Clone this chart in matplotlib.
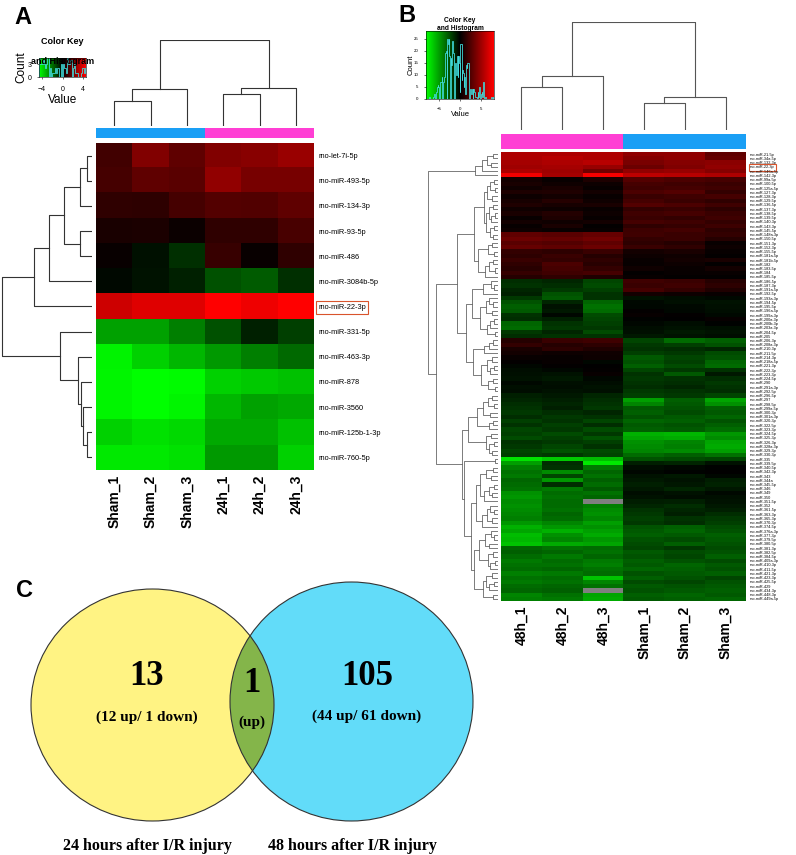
import numpy as np
import matplotlib
matplotlib.use("Agg")
import matplotlib.pyplot as plt
from matplotlib.colors import LinearSegmentedColormap, ListedColormap
from matplotlib.patches import Ellipse

W, H = 796, 855
nan = float("nan")

# ---- panel A: 24h vs sham ----
a_cols = ["Sham_1", "Sham_2", "Sham_3", "24h_1", "24h_2", "24h_3"]
a_groups = [0, 0, 0, 1, 1, 1]
a_rows = ["rno-let-7i-5p", "rno-miR-493-5p", "rno-miR-134-3p", "rno-miR-93-5p",
          "rno-miR-486", "rno-miR-3084b-5p", "rno-miR-22-3p", "rno-miR-331-5p",
          "rno-miR-463-3p", "rno-miR-878", "rno-miR-3560", "rno-miR-125b-1-3p",
          "rno-miR-760-5p"]
a_values = [
    [1.15, 2.3, 1.7, 2.3, 2.45, 2.75],
    [1.25, 1.7, 1.6, 2.6, 2.15, 2.15],
    [0.85, 0.8, 1.25, 1.5, 1.45, 1.7],
    [0.45, 0.5, 0.2, 0.85, 0.85, 1.3],
    [0.15, -0.3, -0.85, 1.0, 0.15, 0.85],
    [-0.15, -0.35, -0.6, -1.45, -1.65, -0.85],
    [3.7, 4.0, 4.0, 4.6, 4.3, 4.6],
    [-2.9, -2.9, -2.3, -1.45, -0.6, -1.15],
    [-4.35, -3.75, -3.3, -2.75, -2.3, -1.9],
    [-4.4, -4.6, -4.5, -3.75, -3.6, -3.45],
    [-4.4, -4.6, -4.4, -3.3, -2.9, -3.05],
    [-3.75, -4.05, -3.9, -3.05, -3.05, -3.45],
    [-4.2, -4.2, -4.05, -2.75, -2.75, -3.75],
]
# merge height between neighbouring leaves (px of the drawn tree)
a_row_gaps = [5, 12, 28, 12, 43, 58, 90, 32, 14, 11, 9, 5]
a_col_gaps = [25, 37, 86, 32, 38]

# ---- panel B: 48h vs sham ----
b_cols = ["48h_1", "48h_2", "48h_3", "Sham_1", "Sham_2", "Sham_3"]
b_groups = [1, 1, 1, 0, 0, 0]
b_rows = [
    "rno-miR-21-5p", "rno-miR-34a-5p", "rno-miR-132-3p", "rno-miR-22-3p", "rno-miR-146a-5p", "rno-miR-142-3p",
    "rno-miR-99a-5p", "rno-miR-100-5p", "rno-miR-125a-5p", "rno-miR-127-3p", "rno-miR-128-3p", "rno-miR-129-5p",
    "rno-miR-136-5p", "rno-miR-137-3p", "rno-miR-138-5p", "rno-miR-139-5p", "rno-miR-140-3p", "rno-miR-143-3p",
    "rno-miR-145-5p", "rno-miR-148a-3p", "rno-miR-150-5p", "rno-miR-151-3p", "rno-miR-152-3p", "rno-miR-155-5p",
    "rno-miR-181a-5p", "rno-miR-181b-5p", "rno-miR-182", "rno-miR-183-5p", "rno-miR-184", "rno-miR-185-5p",
    "rno-miR-186-5p", "rno-miR-187-3p", "rno-miR-191a-5p", "rno-miR-192-5p", "rno-miR-193a-3p", "rno-miR-194-5p",
    "rno-miR-195-5p", "rno-miR-196a-5p", "rno-miR-199a-3p", "rno-miR-200a-3p", "rno-miR-200b-3p", "rno-miR-203a-3p",
    "rno-miR-204-5p", "rno-miR-205", "rno-miR-206-3p", "rno-miR-208a-3p", "rno-miR-210-3p", "rno-miR-211-5p",
    "rno-miR-214-3p", "rno-miR-218a-5p", "rno-miR-221-3p", "rno-miR-222-3p", "rno-miR-223-3p", "rno-miR-224-5p",
    "rno-miR-290", "rno-miR-291a-3p", "rno-miR-292-5p", "rno-miR-296-5p", "rno-miR-297", "rno-miR-298-5p",
    "rno-miR-299a-5p", "rno-miR-300-3p", "rno-miR-301a-3p", "rno-miR-320-3p", "rno-miR-322-5p", "rno-miR-323-3p",
    "rno-miR-324-5p", "rno-miR-325-3p", "rno-miR-326-3p", "rno-miR-328a-3p", "rno-miR-329-3p", "rno-miR-330-3p",
    "rno-miR-335", "rno-miR-339-5p", "rno-miR-340-5p", "rno-miR-342-3p", "rno-miR-343", "rno-miR-344a",
    "rno-miR-345-5p", "rno-miR-346", "rno-miR-349", "rno-miR-350", "rno-miR-351-5p", "rno-miR-352",
    "rno-miR-361-5p", "rno-miR-363-3p", "rno-miR-365-3p", "rno-miR-370-3p", "rno-miR-374-5p", "rno-miR-376a-3p",
    "rno-miR-377-3p", "rno-miR-379-5p", "rno-miR-380-5p", "rno-miR-381-3p", "rno-miR-382-5p", "rno-miR-384-5p",
    "rno-miR-409a-3p", "rno-miR-410-3p", "rno-miR-411-5p", "rno-miR-421-3p", "rno-miR-423-3p", "rno-miR-425-5p",
    "rno-miR-429", "rno-miR-434-3p", "rno-miR-448-3p", "rno-miR-449a-5p",
]
b_values = [
    [5.5, 5.5, 5.5, 4.5, 4.5, 3.0],
    [5.5, 5.8, 5.5, 4.2, 4.5, 3.2],
    [5.2, 5.5, 5.8, 3.8, 4.2, 4.4],
    [5.0, 5.2, 4.8, 3.4, 4.0, 4.6],
    [5.4, 5.0, 3.6, 4.6, 4.8, 4.2],
    [7.6, 5.2, 7.8, 6.0, 5.8, 5.5],
    [0.6, 0.3, 0.9, 2.6, 2.4, 2.2],
    [0.8, 0.5, 0.4, 2.2, 2.0, 1.8],
    [0.5, 0.8, 0.2, 2.0, 2.2, 2.0],
    [0.9, 1.0, 0.6, 2.4, 2.6, 1.6],
    [0.4, 0.6, 0.3, 1.8, 2.0, 2.2],
    [0.7, 1.2, 0.5, 2.2, 1.8, 1.5],
    [1.0, 0.7, 0.8, 2.6, 2.4, 2.0],
    [0.5, 0.4, 0.3, 1.6, 1.8, 1.4],
    [0.8, 1.1, 0.4, 2.0, 2.2, 1.8],
    [0.3, 0.9, 0.2, 1.8, 1.6, 2.0],
    [0.6, 0.5, 0.6, 2.2, 2.0, 1.6],
    [0.2, 0.8, 0.1, 1.5, 1.7, 1.9],
    [0.4, 0.3, 0.2, 1.9, 2.1, 1.4],
    [3.0, 2.8, 3.2, 2.0, 1.8, 1.6],
    [3.4, 3.2, 3.6, 1.6, 1.8, 1.2],
    [2.8, 2.6, 3.0, 1.4, 1.2, 0.3],
    [3.2, 3.0, 3.4, 1.8, 1.5, 0.4],
    [1.6, 1.4, 1.8, 0.6, 0.8, 0.2],
    [1.4, 1.8, 1.2, 0.4, 0.5, 0.1],
    [1.8, 1.6, 1.5, 0.3, 0.6, 0.8],
    [1.5, 2.4, 1.3, 0.2, 0.4, 0.1],
    [1.3, 2.2, 1.6, 0.5, 0.3, 0.6],
    [1.7, 2.0, 2.2, 0.1, 0.2, 0.3],
    [1.2, 1.5, 1.0, 0.2, 0.1, 0.1],
    [-1.4, -1.2, -2.2, 2.0, 1.8, 1.2],
    [-1.6, -1.4, -2.4, 1.8, 2.0, 1.4],
    [-1.2, -1.8, -2.0, 2.2, 1.6, 1.0],
    [-1.0, -2.6, -1.6, 0.6, 0.4, 0.3],
    [-1.8, -2.8, -1.6, -0.6, -0.4, -0.3],
    [-2.6, -1.2, -3.2, -0.3, -0.5, -0.6],
    [-3.0, -0.6, -3.6, -0.2, -0.3, -0.5],
    [-2.8, -0.8, -3.4, 0.1, -0.2, -0.4],
    [-1.6, -0.2, -2.4, 0.2, 0.1, -0.3],
    [-1.4, -1.0, -2.2, -0.1, 0.0, 0.2],
    [-3.2, -1.6, -2.0, -0.2, -0.4, -0.1],
    [-3.4, -1.8, -1.8, -0.4, -0.6, -0.5],
    [-1.8, -1.2, -2.4, -0.5, -0.8, -0.6],
    [-1.4, -1.6, -1.6, -0.8, -0.6, -0.4],
    [1.2, 1.8, 2.0, -2.2, -3.4, -3.0],
    [1.6, 1.2, 1.4, -1.8, -2.0, -2.6],
    [0.8, 1.4, 1.0, -1.6, -1.4, -1.2],
    [0.6, 0.4, 0.5, -2.0, -1.8, -2.4],
    [0.3, 0.2, 0.4, -2.8, -2.2, -2.6],
    [0.1, 0.2, -0.2, -2.6, -2.0, -3.2],
    [-0.2, 0.1, 0.0, -3.0, -2.4, -3.4],
    [-0.4, -0.2, 0.1, -2.2, -1.8, -1.6],
    [-0.5, -0.6, 0.3, -1.6, -2.8, -0.8],
    [-0.6, -0.8, -0.2, -1.8, -1.6, -1.4],
    [-0.3, -0.5, -0.4, -1.6, -1.4, -1.8],
    [-0.5, -0.4, -0.6, -1.4, -1.2, -1.6],
    [-0.4, -0.6, -0.5, -1.8, -1.6, -1.4],
    [-1.0, -0.8, -1.2, -2.0, -1.8, -2.2],
    [-1.2, -1.0, -1.4, -5.0, -3.0, -5.2],
    [-1.4, -1.2, -1.6, -4.2, -2.8, -4.6],
    [-1.6, -1.0, -1.8, -2.8, -2.6, -3.0],
    [-1.8, -1.4, -1.2, -3.0, -2.4, -2.8],
    [-1.4, -1.8, -1.6, -2.6, -2.8, -3.2],
    [-2.0, -1.6, -2.2, -3.2, -3.0, -2.6],
    [-1.6, -2.0, -1.4, -2.8, -2.6, -3.0],
    [-2.2, -1.8, -2.4, -3.0, -2.8, -3.4],
    [-2.0, -2.4, -1.8, -5.6, -5.8, -4.8],
    [-2.4, -2.0, -2.6, -5.2, -5.4, -4.4],
    [-1.6, -1.8, -2.0, -4.6, -4.2, -5.2],
    [-1.8, -2.2, -1.6, -4.4, -4.0, -5.4],
    [-2.2, -2.6, -2.4, -4.2, -4.4, -5.0],
    [-2.0, -1.8, -2.2, -3.4, -3.0, -3.6],
    [-7.2, -6.4, -6.0, -2.6, -2.4, -2.2],
    [-5.0, -1.4, -7.4, -1.0, -1.2, -0.6],
    [-4.0, -1.6, -3.8, -0.4, -0.2, -0.1],
    [-3.6, -4.4, -3.2, -0.2, -0.1, 0.0],
    [-3.8, -2.2, -3.6, -0.6, -0.8, -0.2],
    [-3.2, -4.8, -3.0, -0.8, -0.6, -0.9],
    [-3.4, -1.4, -3.4, -1.0, -0.7, -1.1],
    [-3.6, -3.8, -2.8, -0.8, -1.2, -0.7],
    [-4.6, -3.4, -3.6, -0.4, -0.6, -0.3],
    [-4.8, -3.6, -3.2, -0.6, -0.4, -0.5],
    [-4.4, -3.4, nan, -0.9, -1.0, -0.6],
    [-4.6, -3.4, -4.0, -1.2, -1.4, -0.8],
    [-4.4, -3.6, -4.4, -1.6, -1.2, -1.0],
    [-4.2, -3.2, -4.6, -1.8, -1.0, -1.4],
    [-4.0, -3.4, -4.2, -2.0, -1.6, -1.8],
    [-4.8, -4.2, -5.0, -1.8, -1.4, -2.0],
    [-5.6, -4.8, -4.6, -2.6, -3.0, -2.4],
    [-5.2, -5.6, -5.0, -2.8, -3.2, -2.6],
    [-6.0, -4.6, -5.4, -3.0, -2.8, -3.0],
    [-5.8, -4.2, -4.8, -2.6, -2.4, -2.8],
    [-6.2, -5.4, -5.2, -2.4, -3.0, -2.6],
    [-3.2, -3.6, -3.4, -2.2, -1.8, -2.4],
    [-3.0, -3.2, -3.6, -2.8, -2.4, -2.6],
    [-3.4, -3.8, -3.2, -2.6, -2.2, -3.0],
    [-3.8, -3.4, -3.8, -3.0, -2.6, -2.4],
    [-3.6, -3.6, -4.0, -2.8, -3.2, -2.8],
    [-3.4, -3.2, -3.6, -3.2, -3.0, -2.6],
    [-4.0, -3.8, -3.4, -2.6, -2.8, -3.0],
    [-3.6, -3.4, -6.2, -3.0, -2.6, -2.2],
    [-3.8, -3.6, -4.2, -2.4, -2.2, -2.6],
    [-3.4, -3.2, -3.6, -2.8, -2.6, -2.8],
    [-3.2, -3.0, nan, -2.6, -2.8, -3.0],
    [-4.2, -3.6, -5.2, -3.0, -3.2, -2.8],
    [-4.0, -3.8, -5.4, -2.8, -3.0, -3.2],
]
b_row_gaps = ([5, 11, 7, 16, 23] + [70]
              + [4, 8, 3, 11, 6, 14, 5, 9, 3, 7, 12, 4, 8, 5] + [24]
              + [6, 10, 4, 20, 5, 9, 3, 13] + [41]
              + [7, 4, 15, 26, 9, 5, 12, 6, 18, 4, 8, 11, 3] + [32]
              + [5, 9, 14, 25, 6, 11, 4, 8, 17, 5, 10, 3] + [62]
              + [6, 10, 4, 15, 8, 21, 5, 9, 30, 7, 12, 4, 9, 6] + [36]
              + [3, 34]
              + [5, 12, 7, 18, 4, 9, 6, 14, 22, 8, 4, 11, 6, 16] + [27]
              + [7, 4, 13, 9, 19, 5, 10, 3, 8, 24, 6, 12, 4, 9, 15, 5])
b_col_gaps = [43, 54, 108, 27, 33]

# ---- panel C: venn ----
venn_counts = ["13", "1", "105"]
venn_details = ["(12 up/ 1 down)", "(up)", "(44 up/ 61 down)"]
venn_sets = ["24 hours after I/R injury", "48 hours after I/R injury"]

cmap = LinearSegmentedColormap.from_list("gkr", ["#00ff00", "#000000", "#ff0000"])
cmap.set_bad("#7f7f7f")
side_cmap = ListedColormap(["#1a9ff5", "#ff3fd4"])
SANS = "Liberation Sans"
SERIF = "Liberation Serif"


def px_axes(fig, x0, y0, x1, y1):
    return fig.add_axes([x0 / W, 1 - y1 / H, (x1 - x0) / W, (y1 - y0) / H])


def dendro(ax, gaps, orient, color, lw):
    def walk(lo, hi):
        if lo == hi:
            return lo + 0.5, 0.0
        k = lo + int(np.argmax(gaps[lo:hi]))
        p1, h1 = walk(lo, k)
        p2, h2 = walk(k + 1, hi)
        h = gaps[k]
        if orient == "left":
            ax.plot([h1, h, h, h2], [p1, p1, p2, p2], color=color, lw=lw)
        else:
            ax.plot([p1, p1, p2, p2], [h1, h, h, h2], color=color, lw=lw)
        return (p1 + p2) / 2, h
    walk(0, len(gaps))
    ax.axis("off")


def heat(ax, values, lim, cols, rows, row_fs, row_pad, box_row):
    ax.imshow(np.array(values, float), cmap=cmap, vmin=-lim, vmax=lim,
              aspect="auto", interpolation="nearest")
    for s in ax.spines.values():
        s.set_visible(False)
    ax.set_xticks(range(len(cols)))
    ax.set_xticklabels(cols, rotation=90, fontsize=10, fontweight="bold",
                       family=SANS, va="top")
    ax.yaxis.tick_right()
    ax.set_yticks(range(len(rows)))
    ax.set_yticklabels(rows, fontsize=row_fs, family=SANS)
    ax.tick_params(axis="x", length=0, pad=3.5)
    ax.tick_params(axis="y", length=0, pad=row_pad)
    ax.get_yticklabels()[box_row].set_bbox(
        dict(boxstyle="square,pad=0.35", fc="none", ec="#d9542c", lw=0.8))


def side_bar(ax, groups):
    ax.imshow([groups], cmap=side_cmap, vmin=0, vmax=1, aspect="auto",
              interpolation="nearest")
    ax.axis("off")


def color_key(ax, values, lim, nbins, xticks, yticks, ymax, tick_fs, lab_fs,
              xpad, ypad, xlabpad, ylabpad):
    grad = np.linspace(-lim, lim, 256).reshape(1, -1)
    ax.imshow(grad, cmap=cmap, vmin=-lim, vmax=lim, aspect="auto",
              extent=[-lim, lim, 0, ymax])
    v = np.array(values, float).ravel()
    v = v[~np.isnan(v)]
    ax.hist(v, bins=np.linspace(-lim, lim, nbins), histtype="step",
            color="#40d8d8", lw=0.6)
    ax.set_xlim(-lim, lim)
    ax.set_ylim(0, ymax)
    ax.set_xticks(xticks)
    ax.set_yticks(yticks)
    ax.tick_params(labelsize=tick_fs, length=1.5, width=0.4)
    ax.tick_params(axis="x", pad=xpad)
    ax.tick_params(axis="y", pad=ypad)
    for lab in ax.get_xticklabels() + ax.get_yticklabels():
        lab.set_family(SANS)
    ax.set_xlabel("Value", fontsize=lab_fs, family=SANS, labelpad=xlabpad)
    ax.set_ylabel("Count", fontsize=lab_fs, family=SANS, labelpad=ylabpad)
    for s in ax.spines.values():
        s.set_linewidth(0.4)


fig = plt.figure(figsize=(W / 100, H / 100), dpi=100)

# panel A
axr = px_axes(fig, 0, 143, 92, 470)
dendro(axr, a_row_gaps, "left", "#333333", 0.8)
axr.set_xlim(92, 0)
axr.set_ylim(len(a_rows), 0)
axc = px_axes(fig, 96, 40, 314, 126)
dendro(axc, a_col_gaps, "top", "#333333", 0.8)
axc.set_xlim(0, 6)
axc.set_ylim(0, 86)
side_bar(px_axes(fig, 96, 128, 314, 138), a_groups)
heat(px_axes(fig, 96, 143, 314, 470), a_values, 4.6, a_cols, a_rows, 5.3, 3, 6)
color_key(px_axes(fig, 39, 58, 86, 77), a_values, 4.6, 40, [-4, 0, 4], [0, 3],
          4.4, 5, 8.5, 5, 4, 0.5, 0)
fig.text(62 / W, 1 - 42 / H, "Color Key", ha="center", va="center",
         fontsize=6.5, fontweight="bold", family=SANS)
fig.text(63 / W, 1 - 62 / H, "and Histogram", ha="center", va="center",
         fontsize=6.5, fontweight="bold", family=SANS)

# panel B
axr = px_axes(fig, 428, 152, 498, 601)
dendro(axr, b_row_gaps, "left", "#666666", 0.6)
axr.set_xlim(70, 0)
axr.set_ylim(len(b_rows), 0)
axc = px_axes(fig, 501, 22, 746, 130)
dendro(axc, b_col_gaps, "top", "#555555", 0.8)
axc.set_xlim(0, 6)
axc.set_ylim(0, 108)
side_bar(px_axes(fig, 501, 134, 746, 149), b_groups)
heat(px_axes(fig, 501, 152, 746, 601), b_values, 8.1, b_cols, b_rows, 2.8, 3, 3)
color_key(px_axes(fig, 426, 31, 494, 99), b_values, 8.1, 100,
          [-5, 0, 5], [0, 5, 10, 15, 20, 25], 28.3, 3.2, 5.5, 4.5, 4, 0, -1)
fig.text(460 / W, 1 - 20 / H, "Color Key", ha="center", va="center",
         fontsize=4.8, fontweight="bold", family=SANS)
fig.text(460 / W, 1 - 29 / H, "and Histogram", ha="center", va="center",
         fontsize=4.8, fontweight="bold", family=SANS)

# panel C
axv = px_axes(fig, 0, 570, 480, 855)
axv.set_xlim(0, 480)
axv.set_ylim(855, 570)
axv.axis("off")
yellow = Ellipse((152.5, 705), 243, 232, fc="#fff383", ec="none")
blue = Ellipse((351.5, 701.5), 243, 239, fc="#62dcf9", ec="none")
axv.add_patch(yellow)
axv.add_patch(blue)
lens = Ellipse((152.5, 705), 243, 232, fc="#84b54a", ec="none")
axv.add_patch(lens)
lens.set_clip_path(blue)
axv.add_patch(Ellipse((152.5, 705), 243, 232, fill=False, ec="#333333", lw=0.8))
axv.add_patch(Ellipse((351.5, 701.5), 243, 239, fill=False, ec="#333333", lw=0.8))
for cx, cy, dy, num, det in zip([147, 252, 367], [676, 683, 676], [717, 722, 716],
                                venn_counts, venn_details):
    axv.text(cx, cy, num, ha="center", va="center", fontsize=25,
             fontweight="bold", family=SERIF)
    axv.text(cx, dy, det, ha="center", va="center", fontsize=11,
             fontweight="bold", family=SERIF)
for cx, lab in zip([147, 352], venn_sets):
    axv.text(cx, 846, lab, ha="center", va="center", fontsize=11.5,
             fontweight="bold", family=SERIF)

for x, y, s in [(14, 6, "A"), (398, 4, "B"), (16, 579, "C")]:
    fig.text(x / W, 1 - y / H, s, ha="left", va="top", fontsize=17,
             fontweight="bold", family=SANS)

fig.savefig("out.png", dpi=100)
